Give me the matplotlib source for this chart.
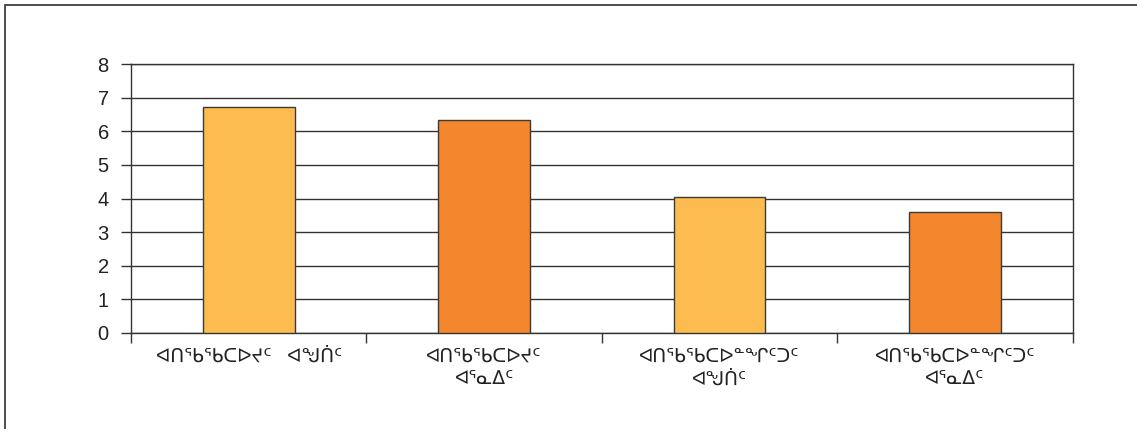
import matplotlib
matplotlib.use('Agg')
import matplotlib.pyplot as plt
from matplotlib.patches import Rectangle

# Data
categories = ['ᐊᑎᖃᖃᑕᐅᔪᑦ   ᐊᖑᑏᑦ', 'ᐊᑎᖃᖃᑕᐅᔪᑦ\nᐊᕐᓇᐃᑦ',
              'ᐊᑎᖃᖃᑕᐅᓐᖏᑦᑐᑦ\nᐊᖑᑏᑦ', 'ᐊᑎᖃᖃᑕᐅᓐᖏᑦᑐᑦ\nᐊᕐᓇᐃᑦ']
values = [6.72, 6.33, 4.04, 3.61]
bar_colors = ['#FDBC4F', '#F4862D', '#FDBC4F', '#F4862D']
y_ticks = [0, 1, 2, 3, 4, 5, 6, 7, 8]

plt.rcParams['font.family'] = ['Liberation Sans', 'DejaVu Sans']

fig = plt.figure(figsize=(11.37, 4.29), dpi=100)
ax = fig.add_axes([131 / 1137, 1 - 333 / 429, (1072.5 - 131) / 1137, (333 - 64) / 429])

# outer frame (only left and top edges visible in the crop)
fig.add_artist(Rectangle((4.5 / 1137, -0.1), 1.2, 1.1 - 5.5 / 429, transform=fig.transFigure,
                         fill=False, edgecolor='#404040', linewidth=1.3, clip_on=False))

x = list(range(len(values)))
ax.bar(x, values, width=0.39, color=bar_colors, edgecolor='#3a3a3a', linewidth=1.0, zorder=3)

ax.set_xlim(-0.5, len(values) - 0.5)
ax.set_ylim(0, 8)
ax.set_yticks(y_ticks)
ax.set_yticklabels([str(t) for t in y_ticks], fontsize=14.5, color='#222222')
ax.yaxis.grid(True, color='#333333', linewidth=1.0, zorder=0)
ax.set_axisbelow(True)

# category boundary ticks below the axis
ax.set_xticks([i - 0.5 for i in range(len(values) + 1)])
ax.set_xticklabels([])
ax.tick_params(axis='x', direction='out', length=7, width=1, color='#333333')
ax.tick_params(axis='y', direction='out', length=7, width=1, color='#333333', pad=9)
for i, lab in enumerate(categories):
    ax.text(i, -0.47, lab, ha='center', va='top', fontsize=13.5, color='#222222',
            linespacing=1.4, transform=ax.transData)

for s in ax.spines.values():
    s.set_color('#333333')
    s.set_linewidth(1.0)

fig.savefig('out.png', dpi=100, facecolor='white')
